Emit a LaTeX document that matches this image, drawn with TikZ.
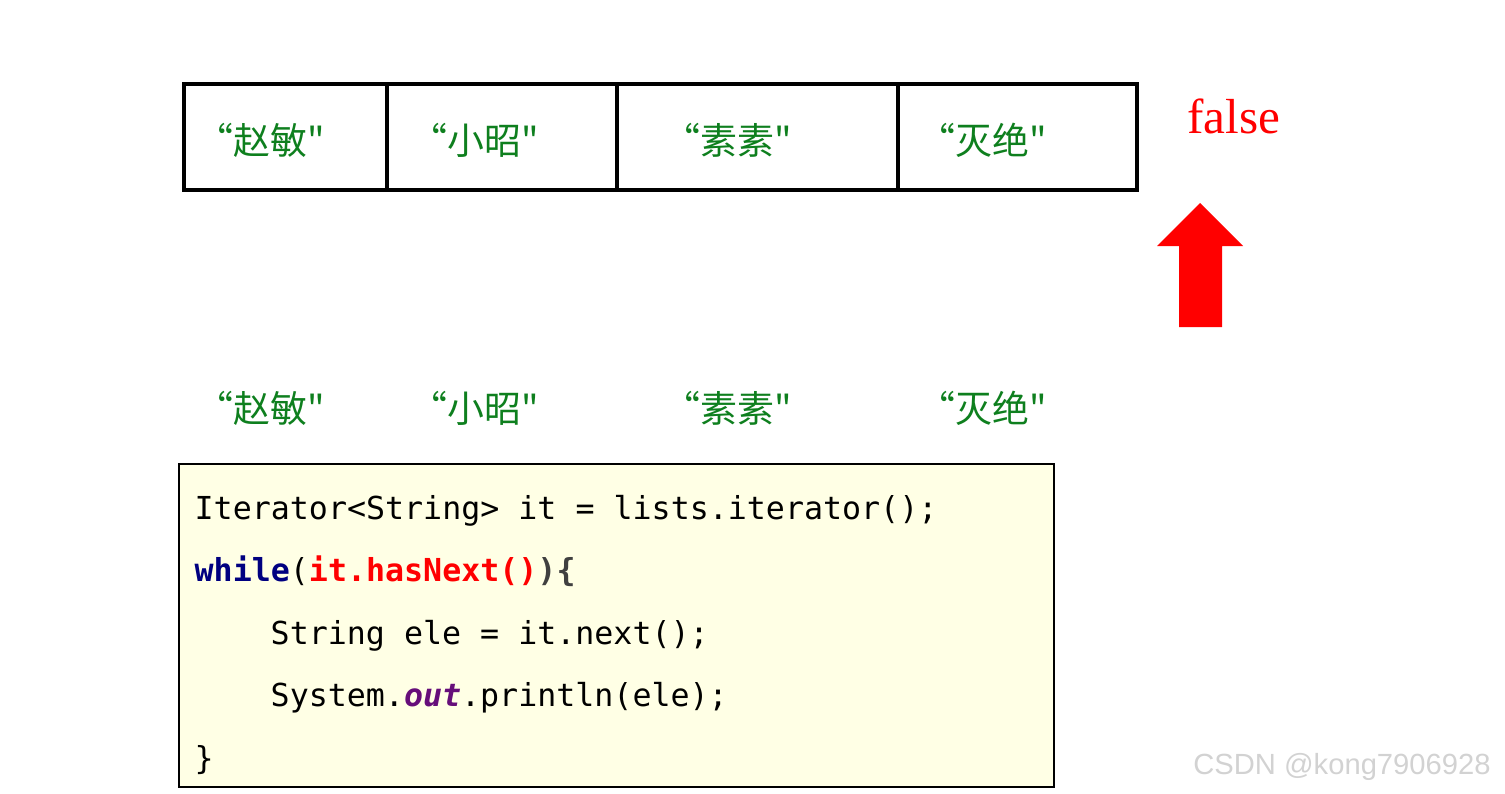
\documentclass[tikz,border=0pt]{standalone}
\usepackage{fontspec}
\setmainfont{Liberation Serif}
\setmonofont{DejaVu Sans Mono}
\newfontfamily\cjk{Noto Sans CJK SC}
\newfontfamily\marca{Liberation Sans}
\usetikzlibrary{positioning}
\definecolor{verde}{HTML}{0E7F1E}
\definecolor{rojo}{HTML}{FF0000}
\definecolor{marino}{HTML}{000080}
\definecolor{morado}{HTML}{660E7A}
\definecolor{gris}{HTML}{404040}
\definecolor{crema}{HTML}{FFFFE5}

\begin{document}
\begin{tikzpicture}[celda/.style={draw=black,line width=1.2pt,minimum height=1.06cm,outer sep=0pt,inner sep=0pt},
                    nombre/.style={text=verde,font=\cjk\fontsize{10.5}{12}\selectfont},
                    codigo/.style={draw=black,line width=0.8pt,fill=crema,outer sep=0pt,inner sep=0pt},
                    linea/.style={anchor=base west,inner sep=0pt,font=\ttfamily\fontsize{9}{11}\selectfont}]
    \useasboundingbox (0,0) rectangle (15.05,-7.93);
    \node[celda,minimum width=2.03cm,anchor=north west] (c1) at (1.84,-0.84) {};
    \node[celda,minimum width=2.30cm,right=0pt of c1] (c2) {};
    \node[celda,minimum width=2.81cm,right=0pt of c2] (c3) {};
    \node[celda,minimum width=2.39cm,right=0pt of c3] (c4) {};
    \node[nombre] (t1) at ([xshift=-2.45mm,yshift=-0.3mm]c1.center) {“赵敏"};
    \node[nombre] (t2) at ([xshift=-2.7mm,yshift=-0.3mm]c2.center) {“小昭"};
    \node[nombre] (t3) at ([xshift=-3.0mm,yshift=-0.3mm]c3.center) {“素素"};
    \node[nombre] (t4) at ([xshift=-3.5mm,yshift=-0.3mm]c4.center) {“灭绝"};
    \node[nombre] (b1) at ([yshift=-2.68cm]t1) {“赵敏"};
    \node[nombre] (b2) at ([yshift=-2.68cm]t2) {“小昭"};
    \node[nombre] (b3) at ([yshift=-2.68cm]t3) {“素素"};
    \node[nombre] (b4) at ([yshift=-2.68cm]t4) {“灭绝"};
    \node[text=rojo,font=\fontsize{14}{16}\selectfont] (f) at (12.34,-1.16) {false};
    \fill[rojo] (11.79,-3.27) -- (11.79,-2.46) -- (11.57,-2.46) -- (12.00,-2.03)
                -- (12.43,-2.46) -- (12.22,-2.46) -- (12.22,-3.27) -- cycle;
    \node[codigo,minimum width=8.75cm,minimum height=3.23cm,anchor=north west] (box) at (1.79,-4.64) {};
    \node[linea] (l1) at (1.94,-5.19) {Iterator<String> it = lists.iterator();};
    \node[linea] (l2) at (1.94,-5.81) {\textcolor{marino}{\bfseries while}(\textcolor{rojo}{\bfseries it.hasNext()}\textcolor{gris}{\bfseries )\{}};
    \node[linea] (l3) at (2.70,-6.44) {String ele = it.next();};
    \node[linea] (l4) at (2.70,-7.06) {System.\textcolor{morado}{\bfseries\itshape out}.println(ele);};
    \node[linea] (l5) at (1.94,-7.69) {\}};
    \node[text=gray!35,font=\marca\fontsize{8.3}{10}\selectfont,anchor=east] (w) at (15.03,-7.67) {CSDN @kong7906928};
\end{tikzpicture}
\end{document}
